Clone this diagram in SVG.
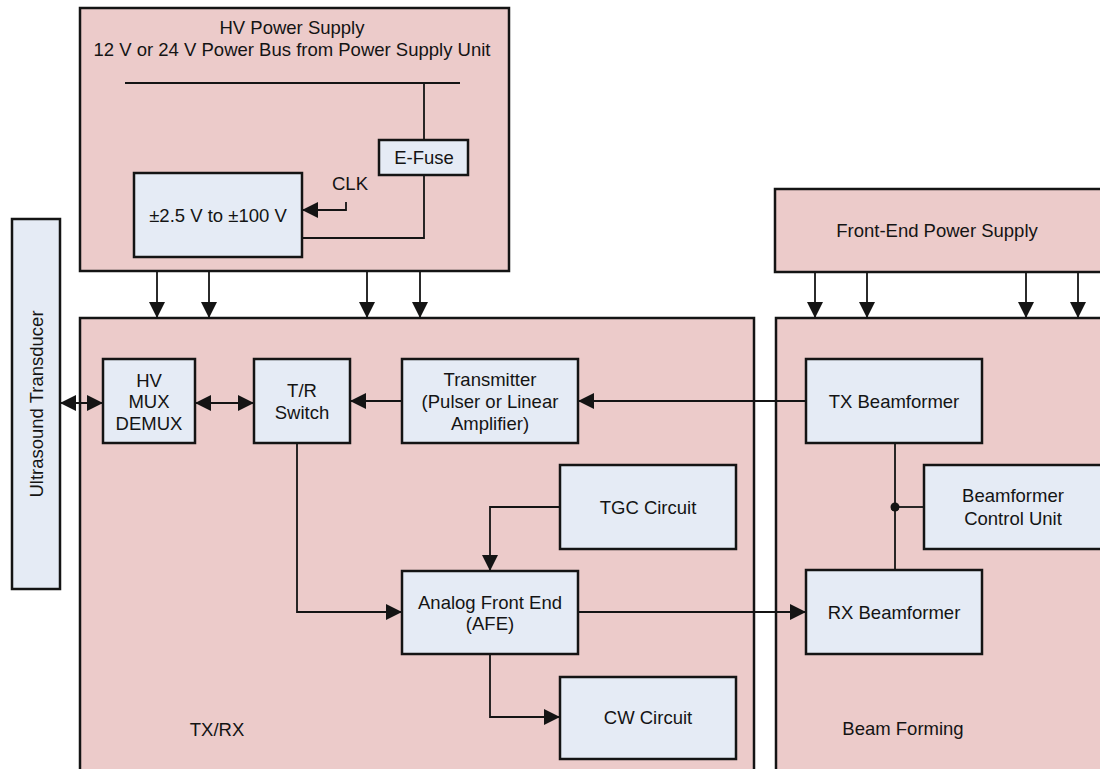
<svg xmlns="http://www.w3.org/2000/svg" width="1100" height="769" viewBox="0 0 1100 769">
<style>
.outer{fill:#ECCBCA;stroke:#141414;stroke-width:2.5}
.inner{fill:#E5EBF5;stroke:#141414;stroke-width:2.5}
text{font-family:"Liberation Sans",Arial,sans-serif;font-size:18.5px;fill:#141414;text-anchor:middle}
.c{fill:none;stroke:#141414;stroke-width:1.8}
</style>
<defs>
<marker id="ah" markerUnits="userSpaceOnUse" markerWidth="17" markerHeight="16" refX="16" refY="8" orient="auto-start-reverse" viewBox="0 0 17 16">
<path d="M0,0 L16,8 L0,16 Z" fill="#141414"/>
</marker>
</defs>
<rect x="0" y="0" width="1100" height="769" fill="#ffffff"/>
<g id="hv-power-supply">
<rect class="outer" x="80" y="8" width="429" height="263"/>
<text x="292" y="33.5">HV Power Supply</text>
<text x="292" y="55.5">12 V or 24 V Power Bus from Power Supply Unit</text>
</g>
<g id="front-end-power-supply">
<rect class="outer" x="775" y="189" width="335" height="83"/>
<text x="937" y="236.5">Front-End Power Supply</text>
</g>
<g id="txrx">
<rect class="outer" x="80" y="318" width="674" height="470"/>
<text x="217" y="736">TX/RX</text>
</g>
<g id="beam-forming">
<rect class="outer" x="776" y="318" width="335" height="470"/>
<text x="903" y="734.5">Beam Forming</text>
</g>
<g id="ultrasound-transducer">
<rect class="inner" x="12" y="219" width="48" height="370"/>
<text transform="translate(42.5,404) rotate(-90)" x="0" y="0">Ultrasound Transducer</text>
</g>
<g id="e-fuse">
<rect class="inner" x="379" y="140" width="89" height="35"/>
<text x="424" y="164">E-Fuse</text>
</g>
<g id="hv-converter">
<rect class="inner" x="134" y="173" width="168" height="84"/>
<text x="218" y="221.5">±2.5 V to ±100 V</text>
</g>
<g id="clk-label">
<text x="350" y="189.5">CLK</text>
</g>
<g id="hv-mux">
<rect class="inner" x="103" y="359" width="92" height="84"/>
<text x="149" y="386.5">HV</text>
<text x="149" y="408">MUX</text>
<text x="149" y="429.5">DEMUX</text>
</g>
<g id="tr-switch">
<rect class="inner" x="254" y="359" width="96" height="84"/>
<text x="302" y="396.5">T/R</text>
<text x="302" y="418.5">Switch</text>
</g>
<g id="transmitter">
<rect class="inner" x="402" y="359" width="176" height="84"/>
<text x="490" y="385.5">Transmitter</text>
<text x="490" y="407.5">(Pulser or Linear</text>
<text x="490" y="429.5">Amplifier)</text>
</g>
<g id="tgc-circuit">
<rect class="inner" x="560" y="465" width="176" height="84"/>
<text x="648" y="513.5">TGC Circuit</text>
</g>
<g id="afe">
<rect class="inner" x="402" y="571" width="176" height="83"/>
<text x="490" y="608.5">Analog Front End</text>
<text x="490" y="629.5">(AFE)</text>
</g>
<g id="cw-circuit">
<rect class="inner" x="560" y="677" width="176" height="82"/>
<text x="648" y="723.5">CW Circuit</text>
</g>
<g id="tx-beamformer">
<rect class="inner" x="806" y="359" width="176" height="84"/>
<text x="894" y="407.5">TX Beamformer</text>
</g>
<g id="rx-beamformer">
<rect class="inner" x="806" y="570" width="176" height="84"/>
<text x="894" y="618.5">RX Beamformer</text>
</g>
<g id="beamformer-control-unit">
<rect class="inner" x="924" y="465" width="178" height="84"/>
<text x="1013" y="501.5">Beamformer</text>
<text x="1013" y="524.5">Control Unit</text>
</g>
<g id="connectors">
<path class="c" d="M125 83 H460"/>
<path class="c" d="M424 83 V140"/>
<path class="c" d="M424 175 V238 H302"/>
<path class="c" d="M346 202 V210 H302" marker-end="url(#ah)"/>
<path class="c" d="M157 271 V318" marker-end="url(#ah)"/>
<path class="c" d="M209 271 V318" marker-end="url(#ah)"/>
<path class="c" d="M367 271 V318" marker-end="url(#ah)"/>
<path class="c" d="M420 271 V318" marker-end="url(#ah)"/>
<path class="c" d="M815 272 V318" marker-end="url(#ah)"/>
<path class="c" d="M867 272 V318" marker-end="url(#ah)"/>
<path class="c" d="M1026 272 V318" marker-end="url(#ah)"/>
<path class="c" d="M1078 272 V318" marker-end="url(#ah)"/>
<path class="c" d="M60 403 H103" marker-start="url(#ah)" marker-end="url(#ah)"/>
<path class="c" d="M195 403 H254" marker-start="url(#ah)" marker-end="url(#ah)"/>
<path class="c" d="M402 401 H350" marker-end="url(#ah)"/>
<path class="c" d="M806 401 H578" marker-end="url(#ah)"/>
<path class="c" d="M297 443 V612 H402" marker-end="url(#ah)"/>
<path class="c" d="M560 507 H490 V571" marker-end="url(#ah)"/>
<path class="c" d="M578 612 H806" marker-end="url(#ah)"/>
<path class="c" d="M490 654 V717 H560" marker-end="url(#ah)"/>
<path class="c" d="M895 443 V570"/>
<path class="c" d="M895 507 H924"/>
<circle cx="895" cy="507" r="4.5" fill="#141414"/>
</g>
</svg>
